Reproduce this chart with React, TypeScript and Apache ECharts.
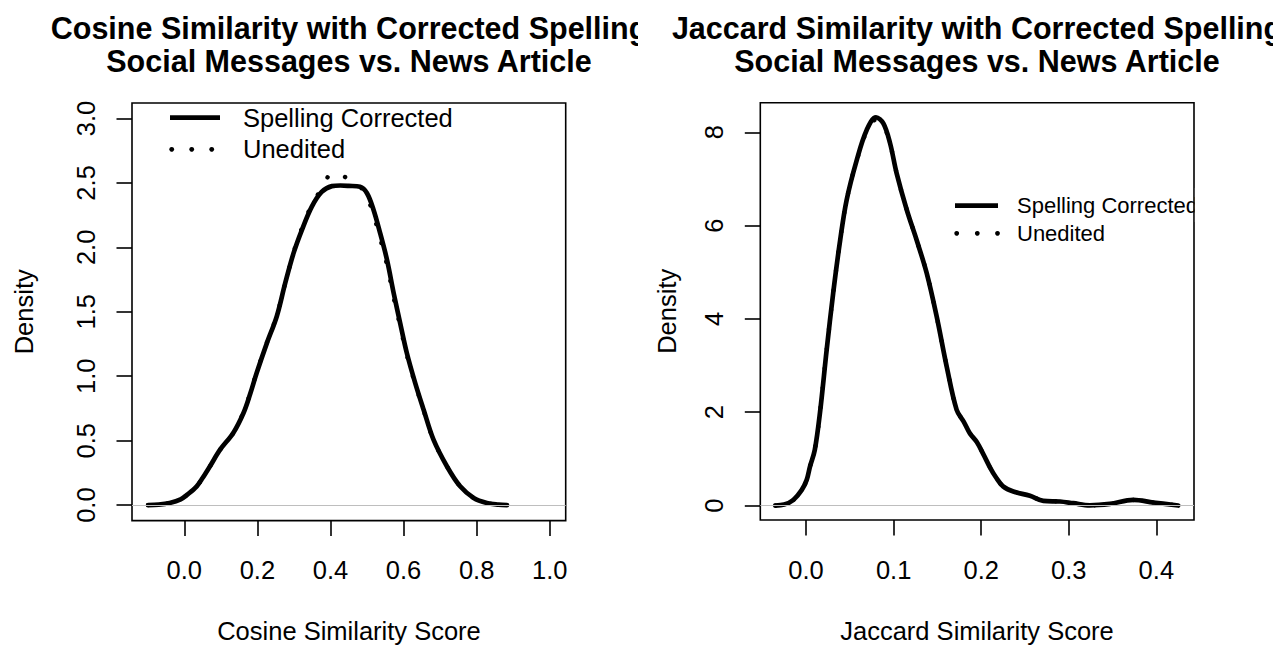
import React, { useEffect, useRef } from "react";
import * as echarts from "echarts";

const FONT = "'Liberation Sans', Arial, Helvetica, sans-serif";

// ---------- Cosine similarity (left panel) ----------
const cosineX = [
  -0.099, -0.07, -0.04, -0.01, 0.01, 0.034, 0.05, 0.07, 0.098, 0.134, 0.162, 0.18, 0.198, 0.226,
  0.253, 0.276, 0.299, 0.322, 0.349, 0.376, 0.404, 0.427, 0.45, 0.481, 0.5, 0.518, 0.536, 0.555,
  0.573, 0.591, 0.609, 0.632, 0.655, 0.682, 0.719, 0.755, 0.792, 0.828, 0.86, 0.883,
];
const cosineCorrected = [
  0, 0.004, 0.017, 0.045, 0.085, 0.146, 0.21, 0.3, 0.43, 0.56, 0.715, 0.86, 1.025, 1.257,
  1.464, 1.72, 1.955, 2.136, 2.316, 2.43, 2.475, 2.48, 2.477, 2.47, 2.42, 2.29, 2.11, 1.9,
  1.645, 1.41, 1.18, 0.947, 0.74, 0.508, 0.3, 0.146, 0.056, 0.017, 0.004, 0,
];
const cosineUnedited = [
  0, 0.004, 0.017, 0.045, 0.085, 0.146, 0.21, 0.3, 0.43, 0.56, 0.72, 0.865, 1.03, 1.26,
  1.47, 1.72, 1.96, 2.15, 2.33, 2.455, 2.57, 2.56, 2.53, 2.47, 2.39, 2.25, 2.07, 1.86,
  1.61, 1.385, 1.165, 0.94, 0.735, 0.505, 0.3, 0.146, 0.056, 0.017, 0.004, 0,
];
const cosineXTicks = [0, 0.2, 0.4, 0.6, 0.8, 1.0];
const cosineYTicks = [0, 0.5, 1, 1.5, 2, 2.5, 3];

// ---------- Jaccard similarity (right panel) ----------
const jaccardX = [
  -0.035, -0.025, -0.0145, -0.005, 0.0008, 0.0046, 0.01, 0.016, 0.0236, 0.031, 0.039, 0.0464,
  0.058, 0.0693, 0.0799, 0.0883, 0.0959, 0.1035, 0.115, 0.1263, 0.1378, 0.1492, 0.1606, 0.172,
  0.18, 0.187, 0.195, 0.203, 0.21, 0.217, 0.225, 0.2367, 0.2557, 0.271, 0.29, 0.305, 0.324,
  0.347, 0.3736, 0.3965, 0.425,
];
const jaccardCorrected = [
  0, 0.02, 0.12, 0.33, 0.55, 0.84, 1.19, 2.0, 3.34, 4.55, 5.69, 6.55,
  7.41, 8.05, 8.32, 8.19, 7.77, 7.12, 6.34, 5.69, 4.98, 4.05, 2.98, 2.05,
  1.8, 1.55, 1.36, 1.08, 0.82, 0.6, 0.41, 0.3, 0.21, 0.1, 0.086, 0.05, 0.005,
  0.036, 0.12, 0.065, 0,
];
const jaccardUnedited = [
  0, 0.02, 0.12, 0.33, 0.55, 0.84, 1.19, 2.0, 3.34, 4.55, 5.69, 6.55,
  7.4, 8.02, 8.27, 8.15, 7.76, 7.12, 6.34, 5.69, 4.98, 4.05, 2.98, 2.05,
  1.8, 1.55, 1.36, 1.08, 0.82, 0.6, 0.41, 0.3, 0.21, 0.1, 0.086, 0.05, 0.005,
  0.036, 0.12, 0.065, 0,
];
const jaccardXTicks = [0, 0.1, 0.2, 0.3, 0.4];
const jaccardYTicks = [0, 2, 4, 6, 8];

const legendLabels = ["Spelling Corrected", "Unedited"];
const yAxisTitle = "Density";

type PanelCfg = {
  title1: string;
  title2: string;
  xTitle: string;
  xs: number[];
  corrected: number[];
  unedited: number[];
  xMin: number;
  xMax: number;
  yMin: number;
  yMax: number;
  xTicks: number[];
  yTicks: number[];
  yFmt: (v: number) => string;
  gridLeft: number;
  gridTop: number;
  gridW: number;
  gridH: number;
  centerX: number;
  densityX: number;
  legend: { x1: number; x2: number; y1: number; y2: number; dots: number[]; textX: number; fontSize: number };
  clip?: { x: number; y: number; w: number; h: number };
};

function txt(x: number, y: number, text: string, size: number, opts: any = {}) {
  const weight = opts.bold ? "bold" : "normal";
  const align = opts.align || "center";
  return {
    type: "text",
    x,
    y,
    rotation: opts.rotation || 0,
    z: opts.z || 10,
    style: {
      text,
      fill: "#000",
      fontSize: size,
      fontWeight: weight,
      fontFamily: FONT,
      align,
      verticalAlign: "middle",
      textAlign: align,
      textVerticalAlign: "middle",
    },
  };
}

function buildOption(c: PanelCfg) {
  const lg = c.legend;
  const graphic: any[] = [
    txt(c.centerX, 28, c.title1, 30.5, { bold: true }),
    txt(c.centerX, 61, c.title2, 30.5, { bold: true }),
    txt(c.centerX, 631, c.xTitle, 25.5),
    txt(c.densityX, c.gridTop + c.gridH / 2, yAxisTitle, 25.5, { rotation: Math.PI / 2 }),
    {
      type: "line",
      z: 10,
      shape: { x1: lg.x1, y1: lg.y1, x2: lg.x2, y2: lg.y1 },
      style: { stroke: "#000", lineWidth: 4.7, lineCap: "butt" },
    },
    ...lg.dots.map((dx) => ({
      type: "circle",
      z: 10,
      shape: { cx: dx, cy: lg.y2, r: 2.4 },
      style: { fill: "#000" },
    })),
    txt(lg.textX, lg.y1, legendLabels[0], lg.fontSize, { align: "left" }),
    txt(lg.textX, lg.y2, legendLabels[1], lg.fontSize, { align: "left" }),
  ];
  if (c.clip) {
    graphic.push({
      type: "rect",
      z: 50,
      shape: { x: c.clip.x, y: c.clip.y, width: c.clip.w, height: c.clip.h },
      style: { fill: "#fff" },
    });
  }
  const labelStyle = { color: "#000", fontSize: 25.5, fontFamily: FONT };
  return {
    animation: false,
    backgroundColor: "#fff",
    grid: {
      left: c.gridLeft,
      top: c.gridTop,
      width: c.gridW,
      height: c.gridH,
      show: true,
      borderColor: "#000",
      borderWidth: 1.6,
      backgroundColor: "transparent",
    },
    xAxis: {
      type: "value",
      min: c.xMin,
      max: c.xMax,
      axisLine: { show: false, onZero: false },
      splitLine: { show: false },
      axisTick: {
        show: true,
        inside: false,
        customValues: c.xTicks,
        length: 15.5,
        lineStyle: { color: "#000", width: 1.6 },
      },
      axisLabel: {
        ...labelStyle,
        customValues: c.xTicks,
        margin: 49.5,
        verticalAlign: "middle",
        formatter: (v: number) => v.toFixed(1),
      },
    },
    yAxis: {
      type: "value",
      min: c.yMin,
      max: c.yMax,
      axisLine: { show: false, onZero: false },
      splitLine: { show: false },
      axisTick: {
        show: true,
        inside: false,
        customValues: c.yTicks,
        length: 15.5,
        lineStyle: { color: "#000", width: 1.6 },
      },
      axisLabel: {
        ...labelStyle,
        customValues: c.yTicks,
        rotate: 90,
        margin: 46,
        align: "center",
        verticalAlign: "middle",
        formatter: c.yFmt,
      },
    },
    series: [
      {
        type: "line",
        data: c.xs.map((x, i) => [x, c.corrected[i]]),
        symbol: "none",
        showSymbol: false,
        smooth: 0.35,
        lineStyle: { color: "#000", width: 4.7, cap: "round", join: "round" },
        z: 2,
        markLine: {
          silent: true,
          symbol: "none",
          label: { show: false },
          lineStyle: { color: "#bebebe", width: 1.2, type: "solid" },
          data: [{ yAxis: 0 }],
        },
      },
      {
        type: "line",
        data: c.xs.map((x, i) => [x, c.unedited[i]]),
        symbol: "none",
        showSymbol: false,
        smooth: 0.35,
        lineStyle: { color: "#000", width: 4.4, type: [0.1, 19.5], cap: "round", join: "round" },
        z: 3,
      },
    ],
    graphic,
  };
}

const LEFT_W = 638;

const leftCfg: PanelCfg = {
  title1: "Cosine Similarity with Corrected Spelling",
  title2: "Social Messages vs. News Article",
  xTitle: "Cosine Similarity Score",
  xs: cosineX,
  corrected: cosineCorrected,
  unedited: cosineUnedited,
  xMin: -0.1431,
  xMax: 1.0438,
  yMin: -0.12,
  yMax: 3.12,
  xTicks: cosineXTicks,
  yTicks: cosineYTicks,
  yFmt: (v: number) => v.toFixed(1),
  gridLeft: 132,
  gridTop: 103,
  gridW: 433.7,
  gridH: 417.6,
  centerX: 349,
  densityX: 24.2,
  legend: { x1: 170, x2: 220, y1: 117.7, y2: 149.3, dots: [171.7, 191.7, 211.7], textX: 243, fontSize: 25.5 },
};

const rightCfg: PanelCfg = {
  title1: "Jaccard Similarity with Corrected Spelling",
  title2: "Social Messages vs. News Article",
  xTitle: "Jaccard Similarity Score",
  xs: jaccardX,
  corrected: jaccardCorrected,
  unedited: jaccardUnedited,
  xMin: -0.0522,
  xMax: 0.443,
  yMin: -0.31,
  yMax: 8.634,
  xTicks: jaccardXTicks,
  yTicks: jaccardYTicks,
  yFmt: (v: number) => String(v),
  gridLeft: 760.3 - LEFT_W,
  gridTop: 102.7,
  gridW: 433.7,
  gridH: 417.3,
  centerX: 977 - LEFT_W,
  densityX: 667 - LEFT_W,
  legend: {
    x1: 955 - LEFT_W,
    x2: 998 - LEFT_W,
    y1: 205.7,
    y2: 233.3,
    dots: [956.7 - LEFT_W, 977.3 - LEFT_W, 997.5 - LEFT_W],
    textX: 1017 - LEFT_W,
    fontSize: 22,
  },
  clip: { x: 1194.9 - LEFT_W, y: 188, w: 90, h: 34 },
};

export default function App() {
  const leftRef = useRef<HTMLDivElement>(null);
  const rightRef = useRef<HTMLDivElement>(null);

  useEffect(() => {
    document.body.style.margin = "0";
    const l = echarts.init(leftRef.current!, null, { renderer: "svg" });
    const r = echarts.init(rightRef.current!, null, { renderer: "svg" });
    l.setOption(buildOption(leftCfg) as any);
    r.setOption(buildOption(rightCfg) as any);
    return () => {
      l.dispose();
      r.dispose();
    };
  }, []);

  return (
    <div style={{ position: "relative", width: 1273, height: 647, background: "#fff", overflow: "hidden" }}>
      <div ref={leftRef} style={{ position: "absolute", left: 0, top: 0, width: LEFT_W, height: 647 }} />
      <div ref={rightRef} style={{ position: "absolute", left: LEFT_W, top: 0, width: 1273 - LEFT_W, height: 647 }} />
    </div>
  );
}
